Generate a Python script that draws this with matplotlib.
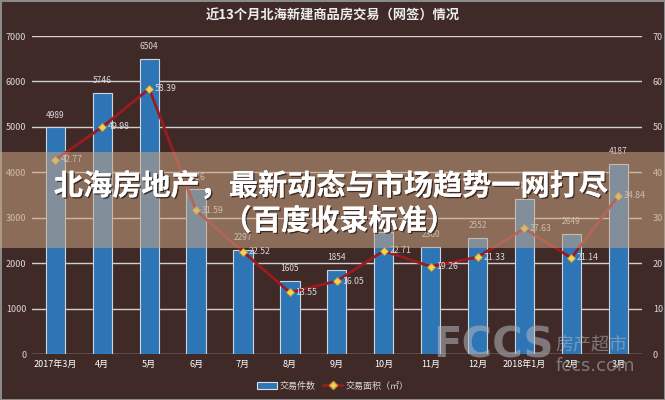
import matplotlib
matplotlib.use("Agg")
import matplotlib.pyplot as plt
import matplotlib.patheffects as pe
from matplotlib.patches import Rectangle
from matplotlib.lines import Line2D
from matplotlib.patches import Patch
import numpy as np

plt.rcParams['font.family'] = ['Noto Sans CJK SC', 'DejaVu Sans']

# data
months = ['2017年3月', '4月', '5月', '6月', '7月', '8月', '9月', '10月', '11月', '12月', '2018年1月', '2月', '3月']
counts = [4989, 5746, 6504, 3626, 2297, 1605, 1854, 2680, 2360, 2552, 3422, 2649, 4187]
areas = [42.77, 49.98, 58.39, 31.59, 22.52, 13.55, 16.05, 22.71, 19.26, 21.33, 27.63, 21.14, 34.84]

bg = '#402a28'
bar_c = '#2e75b6'
line_c = '#9b1b1e'
txt_c = '#d9d9d9'

fig = plt.figure(figsize=(6.65, 4.0), dpi=100, facecolor=bg)
fig.patch.set_edgecolor('#8a8a8a')
fig.patch.set_linewidth(2)
ax = fig.add_axes([0.048, 0.115, 0.917, 0.795])
ax.set_facecolor(bg)
x = np.arange(len(months))

ax.bar(x, counts, width=0.41, color=bar_c, edgecolor='#cfd5dc', linewidth=0.8, zorder=2)
ax.set_ylim(0, 7000)
ax.set_xlim(-0.5, len(months) - 0.5)
ax.set_yticks(range(0, 7001, 1000))
ax.grid(axis='y', color='#d0d0d0', linewidth=1, zorder=0)
ax.set_axisbelow(True)
for s in ax.spines.values():
    s.set_visible(False)
ax.tick_params(length=0, colors=txt_c, labelsize=6.5, pad=4)
ax.set_xticks(x)
ax.set_xticklabels(months, color='white')
for xi, v in zip(x, counts):
    ax.text(xi, v + 170, str(v), ha='center', va='bottom', color=txt_c, fontsize=6)

ax2 = ax.twinx()
ax2.set_ylim(0, 70)
ax2.set_yticks(range(0, 71, 10))
for s in ax2.spines.values():
    s.set_visible(False)
ax2.tick_params(length=0, colors=txt_c, labelsize=6.5, pad=8)
ax2.plot(x, areas, color=line_c, linewidth=2, marker='D', markersize=4,
         markerfacecolor='#f2d35a', markeredgecolor='#c89a30', markeredgewidth=0.6, zorder=3)
for xi, v in zip(x, areas):
    ax2.text(xi + 0.12, v, f'{v:.2f}', ha='left', va='center', color=txt_c, fontsize=6.3)

fig.text(0.5, 0.962, '近13个月北海新建商品房交易（网签）情况', ha='center', va='center',
         color='#eeeeee', fontsize=9.5, fontweight='bold')

leg_items = [Patch(facecolor=bar_c, edgecolor='#e0e0e0', linewidth=0.8),
             Line2D([0], [0], color=line_c, lw=2, marker='D', markersize=4,
                    markerfacecolor='#f2d35a', markeredgecolor='#c89a30')]
fig.legend(leg_items, ['交易件数', '交易面积（㎡）'], loc='center', bbox_to_anchor=(0.5, 0.035),
           ncol=2, frameon=False, fontsize=6.5, labelcolor=txt_c, handlelength=2.2,
           columnspacing=0.8, handletextpad=0.3)

# watermark
fig.text(0.652, 0.135, 'FCCS', ha='left', va='center', color='#b4b8bc', alpha=0.55,
         fontsize=30, fontweight='bold', family=['DejaVu Sans'])
fig.text(0.835, 0.14, '房产超市', ha='left', va='center', color='#b4b8bc', alpha=0.55, fontsize=13)
fig.text(0.835, 0.085, 'fccs.com', ha='left', va='center', color='#b4b8bc', alpha=0.55, fontsize=13,
         family=['DejaVu Sans'])

# banner overlay
fig.patches.append(Rectangle((0, 1 - 248 / 400), 1, 96 / 400, transform=fig.transFigure,
                             facecolor='#c8a483', alpha=0.55, edgecolor='none', zorder=5))
shadow = [pe.withSimplePatchShadow(offset=(1, -1), shadow_rgbFace='#2a1c18', alpha=0.8), pe.Normal()]
fig.text(0.497, 1 - 186 / 400, '北海房地产，最新动态与市场趋势一网打尽', ha='center', va='center',
         color='white', fontsize=21, fontweight='black', zorder=6, path_effects=shadow)
fig.text(0.51, 1 - 221 / 400, '（百度收录标准）', ha='center', va='center',
         color='white', fontsize=21, fontweight='black', zorder=6, path_effects=shadow)

fig.savefig('out.png', dpi=100, facecolor=bg, edgecolor=fig.get_edgecolor())
